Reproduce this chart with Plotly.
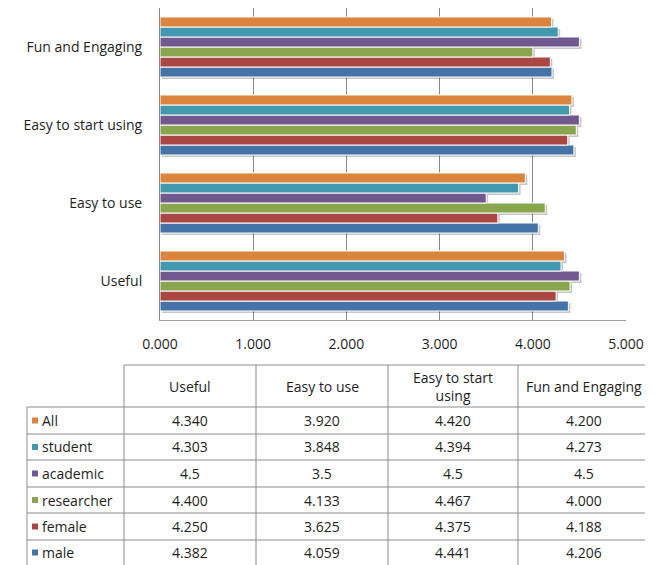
import plotly.graph_objects as go

# ---------------- data ----------------
categories = ["Useful", "Easy to use", "Easy to start using", "Fun and Engaging"]
series_names = ["All", "student", "academic", "researcher", "female", "male"]
all_vals = [4.340, 3.920, 4.420, 4.200]
student_vals = [4.303, 3.848, 4.394, 4.273]
academic_vals = [4.5, 3.5, 4.5, 4.5]
researcher_vals = [4.400, 4.133, 4.467, 4.000]
female_vals = [4.250, 3.625, 4.375, 4.188]
male_vals = [4.382, 4.059, 4.441, 4.206]
decimals = [3, 3, 1, 3, 3, 3]
header_labels = ["Useful", "Easy to use", "Easy to start<br>using", "Fun and Engaging"]
x_ticks = [0, 1, 2, 3, 4, 5]

values = [all_vals, student_vals, academic_vals, researcher_vals, female_vals, male_vals]
colors = ["#DB843D", "#4198AF", "#71588F", "#89A54E", "#AA4643", "#4572A7"]

# page body has an 8px margin -> figure starts at (8, 8) of the window
OFF = 8
W, H = 653 - OFF, 565 - OFF
def px(x):
    return (x - OFF) / W
def py(y):
    return 1 - (y - OFF) / H

FONT = "Open Sans"
TXT = "#1e1e1e"
FS = 14

PLOT_L, PLOT_R, PLOT_T, PLOT_B = 160, 626, 8, 320
XMAX = 5
CAT_RANGE = [-0.5, len(categories) - 0.5]
dx = 2 * XMAX / (PLOT_R - PLOT_L)                      # 2px shadow offset in x units
dy = 2 * (CAT_RANGE[1] - CAT_RANGE[0]) / (PLOT_B - PLOT_T)  # 2px in category units

fig = go.Figure()

order = list(reversed(list(zip(series_names, values, colors))))
# base axes: invisible bars just to establish the frame
for name, vals, col in order:
    fig.add_trace(go.Bar(y=categories, x=vals, orientation="h", xaxis="x", yaxis="y",
                         marker=dict(color="rgba(0,0,0,0)"), hoverinfo="skip", showlegend=False))
# shadows
for name, vals, col in order:
    fig.add_trace(go.Bar(y=categories, x=vals, orientation="h", xaxis="x2", yaxis="y2",
                         marker=dict(color="rgba(0,0,0,0.22)", line=dict(width=0)),
                         hoverinfo="skip", showlegend=False))
# main bars
for name, vals, col in order:
    fig.add_trace(go.Bar(y=categories, x=vals, name=name, orientation="h", xaxis="x3", yaxis="y3",
                         marker=dict(color=col, line=dict(color="white", width=1)),
                         showlegend=False))

xdom = [px(PLOT_L), px(PLOT_R)]
ydom = [py(PLOT_B), py(PLOT_T)]
hidden = dict(visible=False, showgrid=False, zeroline=False, fixedrange=True, automargin=False)

fig.update_layout(
    width=W, height=H,
    margin=dict(l=0, r=0, t=0, b=0, autoexpand=False),
    paper_bgcolor="white", plot_bgcolor="white",
    barmode="group", bargap=0.23, bargroupgap=0,
    font=dict(family=FONT, size=FS, color=TXT),
    xaxis=dict(
        domain=xdom, range=[0, XMAX],
        tickvals=x_ticks, tickformat=".3f",
        showgrid=True, gridcolor="#8a8a8a", gridwidth=1,
        showline=True, linecolor="#a0a0a0", linewidth=1,
        zeroline=False, ticks="", ticklabelstandoff=11,
        tickfont=dict(family=FONT, size=FS, color=TXT),
        automargin=False, fixedrange=True,
    ),
    yaxis=dict(
        domain=ydom,
        categoryorder="array", categoryarray=categories,
        range=CAT_RANGE,
        showgrid=False, showline=True, linecolor="#8a8a8a", linewidth=1,
        ticks="", ticklabelstandoff=14,
        tickfont=dict(family=FONT, size=FS, color=TXT),
        automargin=False, fixedrange=True,
    ),
    xaxis2=dict(hidden, domain=xdom, overlaying="x", range=[-dx, XMAX - dx]),
    yaxis2=dict(hidden, domain=ydom, overlaying="y", categoryorder="array", categoryarray=categories,
                range=[CAT_RANGE[0] + dy, CAT_RANGE[1] + dy]),
    xaxis3=dict(hidden, domain=xdom, overlaying="x", range=[0, XMAX]),
    yaxis3=dict(hidden, domain=ydom, overlaying="y", categoryorder="array", categoryarray=categories,
                range=CAT_RANGE),
)

# ---------------- data table ----------------
col_edges = [124, 256, 388, 518, 650]
row_edges = [407, 434, 460, 487, 513, 540, 567]
header_top = 365
label_left = 27
lc = "#8c8c8c"

shapes = []
shapes.append(dict(type="line", xref="paper", yref="paper",
                   x0=px(col_edges[0]), x1=px(col_edges[-1]), y0=py(header_top), y1=py(header_top),
                   line=dict(color=lc, width=1)))
for cx in col_edges:
    shapes.append(dict(type="line", xref="paper", yref="paper",
                       x0=px(cx), x1=px(cx), y0=py(header_top), y1=py(row_edges[-1]),
                       line=dict(color=lc, width=1)))
shapes.append(dict(type="line", xref="paper", yref="paper",
                   x0=px(label_left), x1=px(label_left), y0=py(row_edges[0]), y1=py(row_edges[-1]),
                   line=dict(color=lc, width=1)))
for ry in row_edges:
    shapes.append(dict(type="line", xref="paper", yref="paper",
                       x0=px(label_left), x1=px(col_edges[-1]), y0=py(ry), y1=py(ry),
                       line=dict(color=lc, width=1)))

annotations = []
for i, lab in enumerate(header_labels):
    cx = (col_edges[i] + col_edges[i + 1]) / 2
    annotations.append(dict(xref="paper", yref="paper", x=px(cx), y=py((header_top + row_edges[0]) / 2),
                            text=lab, showarrow=False, xanchor="center", yanchor="middle",
                            font=dict(family=FONT, size=FS, color=TXT)))
for r, (name, vals, col, dec) in enumerate(zip(series_names, values, colors, decimals)):
    cy = (row_edges[r] + min(row_edges[r + 1], 565)) / 2
    shapes.append(dict(type="rect", xref="paper", yref="paper",
                       x0=px(32), x1=px(38), y0=py(cy - 3), y1=py(cy + 3),
                       fillcolor=col, line=dict(width=0)))
    annotations.append(dict(xref="paper", yref="paper", x=px(40), y=py(cy),
                            text=name, showarrow=False, xanchor="left", yanchor="middle",
                            font=dict(family=FONT, size=FS, color=TXT)))
    for c, v in enumerate(vals):
        cx = (col_edges[c] + col_edges[c + 1]) / 2
        annotations.append(dict(xref="paper", yref="paper", x=px(cx), y=py(cy),
                                text=f"{v:.{dec}f}", showarrow=False, xanchor="center", yanchor="middle",
                                font=dict(family=FONT, size=FS, color=TXT)))

fig.update_layout(shapes=shapes, annotations=annotations)

fig.write_html("out.html")
